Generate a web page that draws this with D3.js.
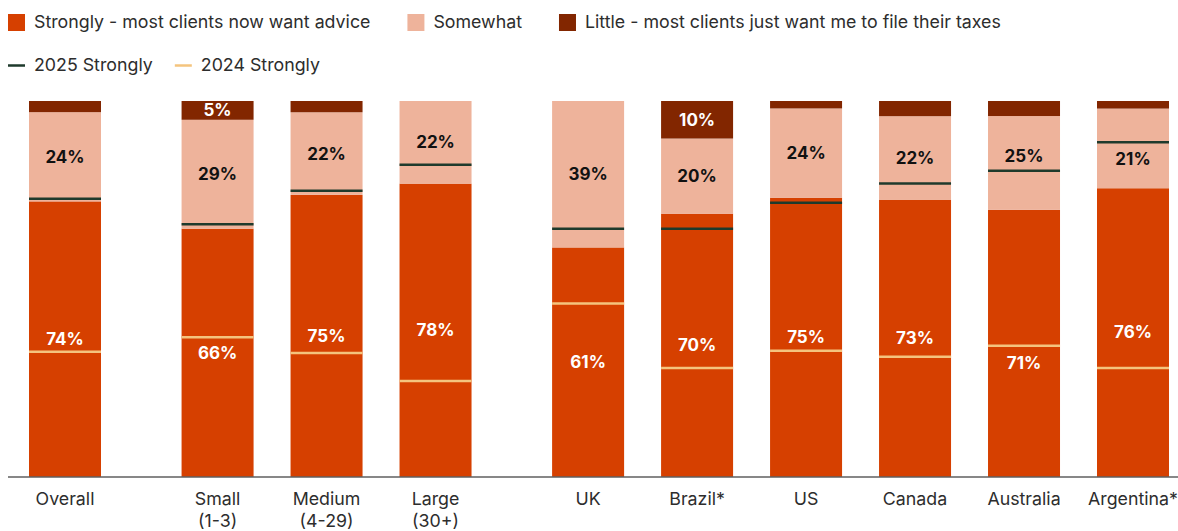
<!DOCTYPE html>
<html>
<head>
<meta charset="utf-8">
<script src="https://cdn.jsdelivr.net/npm/d3@7"></script>
<style>
  html, body { margin: 0; padding: 0; background: #ffffff; }
  svg { display: block; font-family: "Inter", "Liberation Sans", Arial, sans-serif; }
</style>
</head>
<body>
<svg id="chart" width="1178" height="531"></svg>
<script>
// Category labels (one entry per text line) and their grouping
const categories = [
  ["Overall"],
  ["Small", "(1-3)"],
  ["Medium", "(4-29)"],
  ["Large", "(30+)"],
  ["UK"],
  ["Brazil*"],
  ["US"],
  ["Canada"],
  ["Australia"],
  ["Argentina*"]
];
const groups = [0, 1, 1, 1, 2, 2, 2, 2, 2, 2];

// Response shares (%), shown as a 100% stack
const strongly = [74, 66, 75, 78, 61, 70, 75, 73, 71, 76];
const somewhat = [24, 29, 22, 22, 39, 20, 24, 22, 25, 21];
const little   = [3, 5, 3, 0, 0, 10, 2, 4, 4, 2];

// Reference markers (%)
const strongly2025 = [74, 67.2, 76.1, 83, 66, 66, 72.9, 78, 81.4, 89];
const strongly2024 = [33.2, 37.1, 32.9, 25.4, 46.1, 28.9, 33.5, 31.9, 34.8, 28.9];

const legendSeries = [
  "Strongly - most clients now want advice",
  "Somewhat",
  "Little - most clients just want me to file their taxes"
];
const legendMarkers = ["2025 Strongly", "2024 Strongly"];

const COLORS = {
  strongly: "#D64000",
  somewhat: "#EEB39B",
  little: "#822600",
  y2025: "#1E3A2C",
  y2024: "#F4C47E",
  text: "#2D2D2D"
};
const TEXT_SIZE = 17.8;

const svg = d3.select("#chart");
const W = 1178;

// Slot index: groups separated by an extra gap
const slot = categories.map((_, i) => i + 0.4 * groups[i]);
const x = d3.scaleLinear().domain([0, d3.max(slot)]).range([65, 1133]);
const y = d3.scaleLinear().domain([0, 1]).range([476.5, 101]);
const barW = 72;

const rows = categories.map((c, i) => ({
  i, c, cx: x(slot[i]),
  s: strongly[i], m: somewhat[i], l: little[i],
  l25: strongly2025[i] / 100, l24: strongly2024[i] / 100
}));

// 100% stacked bars
const stackKeys = ["s", "m", "l"];
const stackColors = [COLORS.strongly, COLORS.somewhat, COLORS.little];
const stacked = d3.stack().keys(stackKeys).offset(d3.stackOffsetExpand)(rows);
// segment extents per row, per key
rows.forEach((r, i) => {
  r.seg = stacked.map(layer => [layer[i][0], layer[i][1]]);
});

const gBars = svg.append("g");
stacked.forEach((layer, k) => {
  gBars.append("g").attr("fill", stackColors[k])
    .selectAll("rect")
    .data(layer.filter(d => d[1] - d[0] > 0))
    .join("rect")
    .attr("x", d => d.data.cx - barW / 2)
    .attr("width", barW)
    .attr("y", d => y(d[1]))
    .attr("height", d => y(d[0]) - y(d[1]));
});

// Marker lines
const gLines = svg.append("g");
gLines.selectAll("line.l24").data(rows).join("line")
  .attr("class", "l24")
  .attr("x1", d => d.cx - barW / 2).attr("x2", d => d.cx + barW / 2)
  .attr("y1", d => y(d.l24)).attr("y2", d => y(d.l24))
  .attr("stroke", COLORS.y2024).attr("stroke-width", 2.5);
gLines.selectAll("line.l25").data(rows).join("line")
  .attr("class", "l25")
  .attr("x1", d => d.cx - barW / 2).attr("x2", d => d.cx + barW / 2)
  .attr("y1", d => y(d.l25)).attr("y2", d => y(d.l25))
  .attr("stroke", COLORS.y2025).attr("stroke-width", 2.5);

// Keep a value label clear of a marker line crossing its segment
function labelY(mid, lineY) {
  const d = lineY - mid;
  if (Math.abs(d) >= 12) return mid;
  return d > 5 ? lineY - 15 : lineY + 17;
}
const segMid = (r, k) => (y(r.seg[k][0]) + y(r.seg[k][1])) / 2;

const gLabels = svg.append("g")
  .attr("font-size", 17).attr("font-weight", 700)
  .attr("text-anchor", "middle").attr("dominant-baseline", "central");

// Strongly labels
gLabels.selectAll("text.s").data(rows).join("text")
  .attr("class", "s")
  .attr("x", d => d.cx)
  .attr("y", d => labelY(segMid(d, 0), y(d.l24)))
  .attr("fill", "#ffffff")
  .text(d => d.s + "%");

// Somewhat labels
gLabels.selectAll("text.m").data(rows).join("text")
  .attr("class", "m")
  .attr("x", d => d.cx)
  .attr("y", d => labelY(segMid(d, 1), y(d.l25)))
  .attr("fill", "#111111")
  .text(d => d.m + "%");

// Little labels (only where the segment is tall enough)
gLabels.selectAll("text.l").data(rows.filter(d => d.l >= 5)).join("text")
  .attr("class", "l")
  .attr("x", d => d.cx)
  .attr("y", d => segMid(d, 2))
  .attr("fill", "#ffffff")
  .text(d => d.l + "%");

// Baseline axis
svg.append("line")
  .attr("x1", 8).attr("x2", W)
  .attr("y1", y(0) + 0.5).attr("y2", y(0) + 0.5)
  .attr("stroke", "#111111").attr("stroke-width", 1.2);

// Category labels
const gAxis = svg.append("g")
  .attr("font-size", TEXT_SIZE).attr("fill", COLORS.text).attr("text-anchor", "middle");
rows.forEach(d => {
  const t = gAxis.append("text").attr("x", d.cx).attr("y", 505);
  d.c.forEach((line, j) => {
    t.append("tspan").attr("x", d.cx).attr("dy", j === 0 ? 0 : 22).text(line);
  });
});

// Legend: series swatches
const gLeg = svg.append("g").attr("font-size", TEXT_SIZE).attr("fill", COLORS.text);
let lx = 8;
legendSeries.forEach((name, k) => {
  gLeg.append("rect").attr("x", lx).attr("y", 14).attr("width", 17).attr("height", 17)
    .attr("fill", stackColors[k]);
  const t = gLeg.append("text").attr("x", lx + 26).attr("y", 28).text(name);
  lx += 26 + t.node().getComputedTextLength() + 37;
});

// Legend: marker lines
const markerColors = [COLORS.y2025, COLORS.y2024];
lx = 8;
legendMarkers.forEach((name, k) => {
  gLeg.append("line").attr("x1", lx).attr("x2", lx + 17)
    .attr("y1", 65.5).attr("y2", 65.5)
    .attr("stroke", markerColors[k]).attr("stroke-width", 2.5);
  const t = gLeg.append("text").attr("x", lx + 26).attr("y", 71).text(name);
  lx += 26 + t.node().getComputedTextLength() + 22;
});
</script>
</body>
</html>
